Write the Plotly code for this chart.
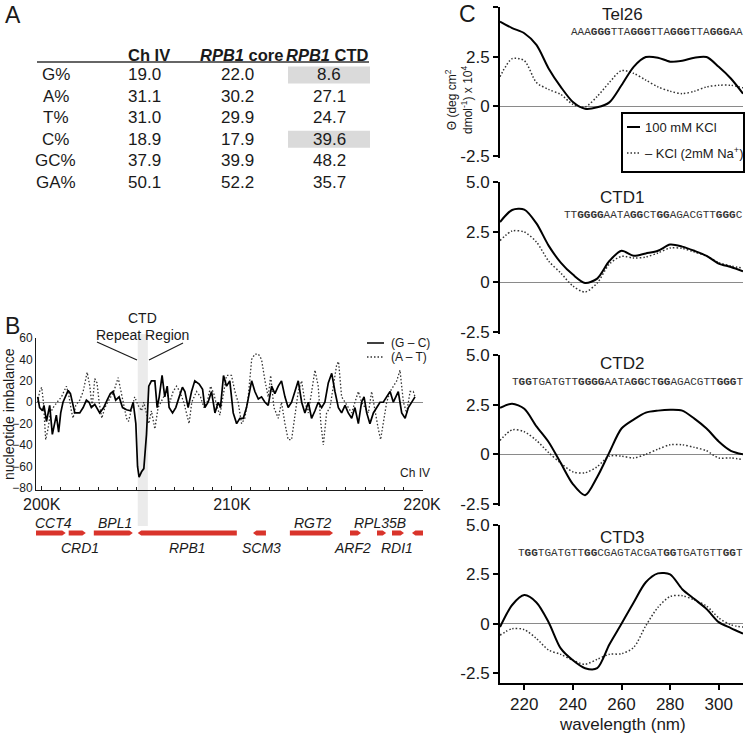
import plotly.graph_objects as go

W, H = 745, 733
def X(px): return px / W
def Y(py): return 1 - py / H

FONT = "Liberation Sans, Arial, sans-serif"
MONO = "Liberation Mono, Courier New, monospace"
INK = "#1a1a1a"
DOT = "1.5px,2px"

# ---------------- Panel A data ----------------
row_labels = ["G%", "A%", "T%", "C%", "GC%", "GA%"]
col_headers = ["<b>Ch IV</b>", "<b><i>RPB1</i> core</b>", "<b><i>RPB1</i> CTD</b>"]
ch_iv = [19.0, 31.1, 31.0, 18.9, 37.9, 50.1]
rpb1_core = [22.0, 30.2, 29.9, 17.9, 39.9, 52.2]
rpb1_ctd = [8.6, 27.1, 24.7, 39.6, 48.2, 35.7]
ctd_highlight_rows = ["G%", "C%"]

# ---------------- Panel B data (kb positions on Ch IV) ----------------
gc_x = [199.79, 199.89, 200.04, 200.12, 200.25, 200.35, 200.42, 200.56, 200.68, 200.77,
        200.89, 201.00, 201.12, 201.26, 201.39, 201.51, 201.61, 201.74, 202.00, 202.18,
        202.35, 202.49, 202.61, 202.79, 203.05, 203.26, 203.44, 203.61, 203.75, 203.89,
        204.07, 204.25, 204.46, 204.67, 204.81, 204.95, 205.04, 205.12, 205.25, 205.37,
        205.51, 205.63, 205.77, 205.95, 206.07, 206.18, 206.33, 206.47, 206.60, 206.70,
        206.88, 207.05, 207.23, 207.40, 207.53, 207.70, 207.88, 208.05, 208.28, 208.46,
        208.58, 208.75, 208.93, 209.11, 209.28, 209.40, 209.56, 209.72, 209.89, 210.07,
        210.25, 210.42, 210.60, 210.77, 211.04, 211.21, 211.39, 211.56, 211.74, 211.91,
        212.09, 212.26, 212.44, 212.61, 212.79, 212.96, 213.14, 213.32, 213.49, 213.67,
        213.84, 214.02, 214.19, 214.37, 214.54, 214.72, 214.89, 215.07, 215.25, 215.42,
        215.60, 215.77, 215.95, 216.12, 216.30, 216.47, 216.65, 216.82, 216.95, 217.09,
        217.26, 217.44, 217.61, 217.79, 217.96, 218.14, 218.32, 218.49, 218.75, 218.93,
        219.11, 219.28, 219.46, 219.63]
gc_y = [5, -5, -8, -3, -18, -8, -3, -30, -18, -12,
        -28, -10, 0, 5, 11, 8, 0, -10, -10, -5,
        2, 0, -5, -2, -10, -5, 2, 8, 10, 2,
        5, -5, -7, -8, 0, -20, -60, -70, -65, -62,
        -30, 15, 20, 20, -5, 5, 25, 5, 15, -5,
        -10, -5, 5, 14, 10, -5, 10, 20, 17, 12,
        -5, 0, 10, -10, 0, -5, 25, 15, 20, -10,
        -20, -15, -15, -5, 20, 10, 3, 5, 0, -3,
        15, 8, 15, 20, 5, -5, 0, 10, 20, 0,
        -10, 0, -15, -8, 0, -5, 0, 18, 27, 10,
        -5, -10, -3, -10, -15, -5, -20, 0, 5, -10,
        -20, -10, -5, 0, 0, 5, 10, 0, 10, -10,
        -15, -5, 0, 5]
at_x = [199.79, 199.89, 200.00, 200.09, 200.21, 200.33, 200.46, 200.60, 200.81, 201.04,
        201.30, 201.44, 201.56, 201.65, 201.79, 202.00, 202.18, 202.39, 202.53, 202.65,
        202.79, 202.91, 203.02, 203.16, 203.32, 203.54, 203.79, 204.02, 204.16, 204.30,
        204.46, 204.56, 204.74, 204.89, 205.07, 205.25, 205.37, 205.51, 205.63, 205.77,
        205.95, 206.12, 206.39, 206.56, 206.74, 206.91, 207.09, 207.26, 207.47, 207.61,
        207.75, 207.89, 208.14, 208.35, 208.53, 208.70, 208.88, 209.05, 209.23, 209.37,
        209.54, 209.72, 209.98, 210.16, 210.33, 210.51, 210.68, 210.86, 211.04, 211.21,
        211.39, 211.56, 211.74, 211.91, 212.04, 212.21, 212.44, 212.61, 212.79, 212.96,
        213.14, 213.32, 213.49, 213.67, 213.84, 214.02, 214.19, 214.37, 214.54, 214.68,
        214.81, 214.98, 215.16, 215.33, 215.51, 215.61, 215.77, 215.95, 216.12, 216.30,
        216.47, 216.65, 216.82, 217.00, 217.18, 217.35, 217.53, 217.70, 217.82, 217.96,
        218.14, 218.32, 218.49, 218.67, 218.84, 219.02, 219.19, 219.37, 219.54, 219.63]
at_y = [0, 10, 14, 0, -35, -25, -10, -5, 0, 5,
        15, 5, -8, -15, -3, 2, 10, 28, 15, -5,
        22, 18, 0, -15, -5, 2, 10, 23, 10, 0,
        -15, -18, -5, 5, -3, -8, 0, -12, -20, -8,
        -25, -5, 5, 10, 0, 10, 15, 10, 0, -10,
        -20, 0, 10, 5, -5, 0, 15, 8, -5, -12,
        5, 25, 25, 10, 0, -20, -15, 5, 40, 45,
        45, 40, 20, 5, 25, -5, -15, 0, -20, -35,
        -35, -10, 10, 20, 0, -10, 10, 30, 15, -20,
        -40, -10, -5, 15, 35, 38, 5, 0, -5, -10,
        0, 10, 0, -5, -10, 10, -10, -25, -35, -20,
        0, 10, 15, 20, 30, 0, -10, 10, 10, 5]
gb_yticks = [-80, -60, -40, -20, 0, 20, 40, 60]
gb_xticks = [200, 210, 220]
gb_xticklabels = ["200K", "210K", "220K"]
ctd_region = [205.05, 205.58]

gene_names = ["CCT4", "CRD1", "BPL1", "RPB1", "SCM3", "RGT2", "ARF2", "RPL35B", "RDI1", ""]
gene_start = [199.68, 201.42, 202.74, 205.05, 211.11, 213.05, 216.21, 217.63, 218.42, 219.47]
gene_end = [201.26, 202.32, 204.79, 210.26, 211.79, 215.32, 216.79, 218.11, 219.05, 220.21]
gene_strand = [1, 1, 1, -1, -1, 1, 1, 1, 1, -1]
gene_label_x = [200.63, 202.0, 203.84, 207.68, 211.58, 214.26, 216.32, 217.79, 218.68, 0]
gene_label_side = ["above", "below", "above", "below", "below", "above", "below", "above", "below", ""]

# ---------------- Panel C data ----------------
wavelength = [210, 215, 220, 225, 230, 235, 240, 245, 250, 255, 260,
              265, 270, 275, 280, 285, 290, 295, 300, 305, 310]
tel26_kcl = [4.27, 3.94, 3.68, 3.09, 1.91, 0.98, 0.22, -0.12, -0.05, 0.20, 1.06,
             1.99, 2.48, 2.45, 2.25, 2.30, 2.45, 2.48, 1.99, 1.40, 0.64]
tel26_na = [1.49, 2.40, 2.30, 1.20, 0.85, 0.60, 0.10, -0.03, 0.50, 1.20, 1.80,
            1.66, 1.32, 0.98, 0.76, 0.64, 0.76, 0.98, 1.06, 1.06, 0.93]
ctd1_kcl = [3.00, 3.60, 3.62, 2.93, 1.82, 0.97, 0.37, -0.05, 0.17, 1.05, 1.56,
            1.31, 1.43, 1.56, 1.87, 1.77, 1.56, 1.31, 0.92, 0.75, 0.54]
ctd1_na = [2.07, 2.55, 2.50, 2.00, 1.05, 0.45, -0.20, -0.50, -0.05, 0.90, 1.28,
           1.20, 1.25, 1.45, 1.70, 1.68, 1.50, 1.30, 0.97, 0.80, 0.70]
ctd2_kcl = [2.34, 2.55, 2.29, 1.41, 0.62, -0.44, -1.50, -2.06, -1.14, 0.10, 1.30,
            1.75, 2.10, 2.20, 2.24, 2.20, 1.80, 1.30, 0.65, 0.18, 0.00]
ctd2_na = [0.70, 1.23, 1.14, 0.70, 0.09, -0.44, -0.88, -0.93, -0.62, -0.09, -0.09,
           -0.18, 0.00, 0.26, 0.48, 0.48, 0.35, 0.18, -0.18, -0.18, -0.26]
ctd3_kcl = [-0.17, 0.95, 1.45, 1.08, 0.08, -1.25, -1.85, -2.25, -2.25, -1.05, 0.00,
            1.08, 2.10, 2.55, 2.50, 1.75, 1.25, 0.75, 0.08, -0.22, -0.50]
ctd3_na = [-0.58, -0.25, -0.30, -0.75, -1.33, -1.55, -1.85, -2.05, -1.80, -1.55, -1.52,
           -1.20, -0.10, 0.83, 1.38, 1.42, 1.20, 0.90, 0.30, -0.05, -0.17]
panel_names = ["Tel26", "CTD1", "CTD2", "CTD3"]
panel_seqs = [
    "AAA<b>GGG</b>TTA<b>GGG</b>TTA<b>GGG</b>TTA<b>GGG</b>AA",
    "TT<b>GGGG</b>AATA<b>GG</b>CT<b>GG</b>AGACGTT<b>GGG</b>C",
    "T<b>GG</b>TGATGTT<b>GGGG</b>AATA<b>GG</b>CT<b>GG</b>AGACGTT<b>GGG</b>T",
    "T<b>GG</b>TGATGTT<b>GG</b>CGAGTACGAT<b>GG</b>TGATGTT<b>GG</b>T",
]
cd_yticks = [-2.5, 0, 2.5, 5.0]
cd_yticklabels = ["-2.5", "0", "2.5", "5.0"]
cd_xticks = [220, 240, 260, 280, 300]
legend_labels = ["100 mM KCl", "\u2013 KCl (2mM Na<sup>+</sup>)"]

# ---------------- figure ----------------
fig = go.Figure()
annotations = []
shapes = []

def ann(text, px, py, size, xanchor="center", yanchor="middle", color=INK, family=FONT, **kw):
    annotations.append(dict(text=text, x=X(px), y=Y(py), xref="paper", yref="paper",
                            xanchor=xanchor, yanchor=yanchor, showarrow=False,
                            font=dict(size=size, color=color, family=family), **kw))

# ---- Panel A : table ----
ann("A", 13, 15, 23)
hdr_x = [149, 241, 327]
for hx, ht in zip(hdr_x, col_headers):
    ann(ht, hx, 55, 16.5)
shapes.append(dict(type="line", xref="paper", yref="paper", x0=X(37), x1=X(369),
                   y0=Y(62), y1=Y(62), line=dict(color="#333", width=1.5)))
row_y0, row_dy = 75, 21.4
for i, lab in enumerate(row_labels):
    ry = row_y0 + i * row_dy
    if lab in ctd_highlight_rows:
        shapes.append(dict(type="rect", xref="paper", yref="paper", x0=X(288), x1=X(370),
                           y0=Y(ry - 8.5), y1=Y(ry + 8.5), fillcolor="#dadada",
                           line=dict(width=0), layer="below"))
    ann(lab, 56, ry, 17)
    ann(f"{ch_iv[i]:.1f}", 144, ry, 17)
    ann(f"{rpb1_core[i]:.1f}", 237, ry, 17)
    ann(f"{rpb1_ctd[i]:.1f}", 329, ry, 17)

# ---- Panel B ----
ann("B", 13, 326, 23)
fig.add_trace(go.Scatter(x=at_x, y=at_y, mode="lines", xaxis="x", yaxis="y",
                         line=dict(color="#333", width=1.3, dash=DOT), showlegend=False))
fig.add_trace(go.Scatter(x=gc_x, y=gc_y, mode="lines", xaxis="x", yaxis="y",
                         line=dict(color="black", width=1.7), showlegend=False))
shapes.append(dict(type="rect", xref="x", yref="paper", x0=ctd_region[0], x1=ctd_region[1],
                   y0=Y(526), y1=Y(334), fillcolor="#ebebeb", line=dict(width=0), layer="below"))
ann("CTD", 142, 318, 14)
ann("Repeat Region", 142, 335, 14)
shapes.append(dict(type="line", xref="paper", yref="paper", x0=X(97), y0=Y(342),
                   x1=X(137), y1=Y(360), line=dict(color=INK, width=1.2)))
shapes.append(dict(type="line", xref="paper", yref="paper", x0=X(149), y0=Y(360),
                   x1=X(183), y1=Y(343), line=dict(color=INK, width=1.2)))
ann("nucleotide imbalance", 9, 414, 14, textangle=-90)
ann("Ch IV", 432, 473, 12, xanchor="right")
# legend B
shapes.append(dict(type="line", xref="paper", yref="paper", x0=X(367), x1=X(384),
                   y0=Y(343), y1=Y(343), line=dict(color="black", width=1.5)))
shapes.append(dict(type="line", xref="paper", yref="paper", x0=X(367), x1=X(384),
                   y0=Y(357), y1=Y(357), line=dict(color="#333", width=1.3, dash=DOT)))
ann("(G \u2013 C)", 389, 343, 12, xanchor="left")
ann("(A \u2013 T)", 389, 357, 12, xanchor="left")

# genes
bar_y, half, tip = 533, 2.6, 0.18
for name, s, e, st, lx, side in zip(gene_names, gene_start, gene_end, gene_strand,
                                     gene_label_x, gene_label_side):
    yb, yt, ym = Y(bar_y + half), Y(bar_y - half), Y(bar_y)
    if st > 0:
        path = f"M {s},{yb} L {e - tip},{yb} L {e},{ym} L {e - tip},{yt} L {s},{yt} Z"
    else:
        path = f"M {e},{yb} L {s + tip},{yb} L {s},{ym} L {s + tip},{yt} L {e},{yt} Z"
    shapes.append(dict(type="path", xref="x", yref="paper", path=path,
                       fillcolor="#d9342b", line=dict(width=0)))
    if name:
        annotations.append(dict(text=f"<i>{name}</i>", x=lx, xref="x",
                                y=Y(523 if side == "above" else 548), yref="paper",
                                showarrow=False, xanchor="center", yanchor="middle",
                                font=dict(size=14, color=INK, family=FONT)))

# ---- Panel C ----
ann("C", 467, 14, 23)
geom = [(7, 158, -2.6), (182, 334, -2.6), (355, 506, -2.6), (525, 683, -3.0)]
kcl = [tel26_kcl, ctd1_kcl, ctd2_kcl, ctd3_kcl]
na = [tel26_na, ctd1_na, ctd2_na, ctd3_na]
title_y = [15, 198, 363, 537]
seq_y = [32, 215, 382, 553]
layout_axes = {}
for k in range(4):
    xa, ya = f"x{k + 2}", f"y{k + 2}"
    fig.add_trace(go.Scatter(x=wavelength, y=na[k], mode="lines", xaxis=xa, yaxis=ya,
                             line=dict(color="#333", width=1.5, dash=DOT, shape="spline",
                                       smoothing=0.8), showlegend=False))
    fig.add_trace(go.Scatter(x=wavelength, y=kcl[k], mode="lines", xaxis=xa, yaxis=ya,
                             line=dict(color="black", width=2, shape="spline", smoothing=0.8),
                             showlegend=False))
    top, bot, rmin = geom[k]
    last = k == 3
    layout_axes[f"xaxis{k + 2}"] = dict(
        domain=[X(500), X(743)], range=[210, 310], anchor=ya, automargin=False,
        showline=last, linecolor="black", linewidth=2, showgrid=False, zeroline=False,
        ticks="outside" if last else "", ticklen=5, tickwidth=1.5, tickcolor="black",
        tickvals=cd_xticks, showticklabels=last,
        tickfont=dict(size=17, color=INK, family=FONT))
    layout_axes[f"yaxis{k + 2}"] = dict(
        domain=[Y(bot), Y(top)], range=[rmin, 5.0], anchor=xa, automargin=False,
        showline=True, linecolor="black", linewidth=2, showgrid=False,
        zeroline=True, zerolinecolor="#8a8a8a", zerolinewidth=1.2,
        ticks="outside", ticklen=5, tickwidth=1.5, tickcolor="black",
        tickvals=cd_yticks, ticktext=cd_yticklabels,
        tickfont=dict(size=17, color=INK, family=FONT))
    ann(panel_names[k], 622, title_y[k], 17)
    ann(panel_seqs[k], 745, seq_y[k], 11, xanchor="right", color="#333", family=MONO)

ann("wavelength (nm)", 622, 724, 17)
ann("\u0398 (deg cm<sup>2</sup><br>dmol<sup>-1</sup>) x 10<sup>4</sup>", 459, 100, 12,
    textangle=-90)
# legend C (boxed)
shapes.append(dict(type="rect", xref="paper", yref="paper", x0=X(622), x1=X(744),
                   y0=Y(172), y1=Y(113), fillcolor="white", line=dict(color="black", width=2)))
shapes.append(dict(type="line", xref="paper", yref="paper", x0=X(627), x1=X(640),
                   y0=Y(127), y1=Y(127), line=dict(color="black", width=2)))
shapes.append(dict(type="line", xref="paper", yref="paper", x0=X(627), x1=X(640),
                   y0=Y(153), y1=Y(153), line=dict(color="#333", width=1.5, dash=DOT)))
ann(legend_labels[0], 643, 127, 13, xanchor="left")
ann(legend_labels[1], 643, 153, 13, xanchor="left")

fig.update_layout(
    width=W, height=H, margin=dict(l=0, r=0, t=0, b=0, pad=0, autoexpand=False),
    paper_bgcolor="white", plot_bgcolor="rgba(0,0,0,0)",
    font=dict(family=FONT, color=INK),
    showlegend=False,
    xaxis=dict(domain=[X(36), X(423)], range=[199.7, 220.05], anchor="y", automargin=False,
               showline=True, linecolor=INK, linewidth=1, showgrid=False, zeroline=False,
               tickvals=gb_xticks, ticktext=gb_xticklabels, ticks="inside", ticklen=4,
               tickcolor=INK, tickfont=dict(size=16, color=INK, family=FONT),
               minor=dict(dtick=1, ticks="inside", ticklen=3, tickcolor=INK)),
    yaxis=dict(domain=[Y(490), Y(338)], range=[-82, 60], anchor="x", automargin=False,
               showline=True, linecolor=INK, linewidth=1, showgrid=False,
               zeroline=True, zerolinecolor="#8a8a8a", zerolinewidth=1,
               tickvals=gb_yticks, ticks="", tickfont=dict(size=12, color=INK, family=FONT)),
    annotations=annotations, shapes=shapes,
    **layout_axes,
)

fig.write_html("out.html", config={"displayModeBar": False},
               post_script="document.body.style.margin='0';document.body.style.padding='0';")
